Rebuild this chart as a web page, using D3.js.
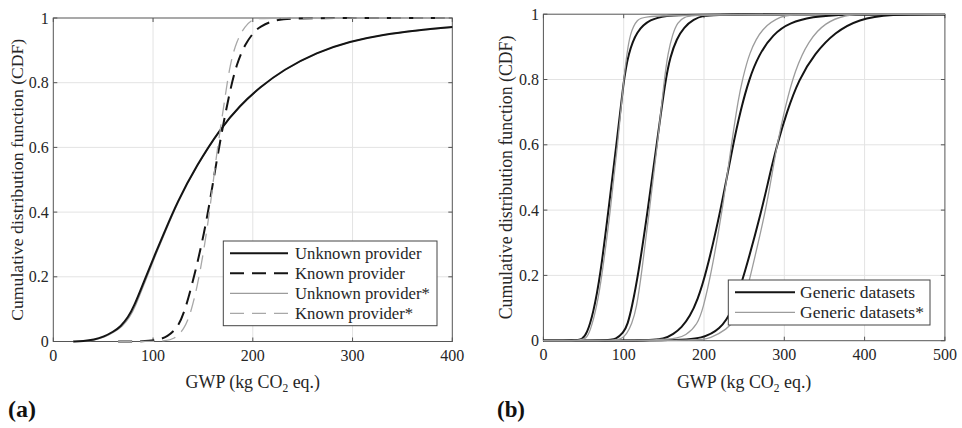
<!DOCTYPE html>
<html>
<head>
<meta charset="utf-8">
<script src="https://cdn.jsdelivr.net/npm/d3@7"></script>
<style>
  body { margin: 0; background: #fff; }
  svg { display: block; }
  text { font-family: "Liberation Serif", "Times New Roman", serif; fill: #262626; }
</style>
</head>
<body>
<svg id="chart" width="962" height="428"></svg>
<script>
// ---- data: [GWP, CDF] ----
const yTicks = [0, 0.2, 0.4, 0.6, 0.8, 1];
const xTicksA = [0, 100, 200, 300, 400];
const xTicksB = [0, 100, 200, 300, 400, 500];

// panel (a)
const unknown = [[20,0],[30,0.001],[40.8,0.005],[50.8,0.015],[60,0.03],[67.5,0.046],[75,0.075],[80.9,0.108],
  [90.9,0.185],[100.9,0.262],[110.9,0.334],[124,0.43],[143.8,0.545],[167.2,0.657],[187.2,0.73],[207.2,0.786],
  [230.6,0.84],[264,0.894],[297.4,0.928],[330.9,0.949],[364.3,0.962],[400,0.972]];
const unknownStar = [[20,0],[32,0.001],[42.5,0.005],[52.5,0.015],[61.5,0.03],[69,0.046],[76.5,0.075],[82.3,0.108],
  [92,0.185],[101.8,0.262],[111.6,0.334],[124.5,0.43],[144,0.545],[167.2,0.657],[187.5,0.73],[207.5,0.786],
  [231,0.84],[264.5,0.894],[298,0.928],[331.5,0.949],[365,0.962],[400,0.971]];
const known = [[65,0],[90,0],[105,0.004],[114.3,0.015],[124.3,0.041],[131,0.087],[137.7,0.159],[144.4,0.242],
  [151.1,0.334],[157.1,0.435],[163.8,0.559],[170.4,0.672],[177.1,0.775],[183.8,0.858],[192.2,0.92],[202.2,0.961],
  [207.2,0.972],[218,0.99],[230.6,0.997],[245,1],[400,1]];
const knownStar = [[65,0],[100,0],[112,0.002],[121,0.007],[131,0.036],[137.7,0.087],[144.3,0.169],[151.1,0.283],
  [157.8,0.427],[162,0.54],[167.2,0.652],[172.2,0.755],[177.2,0.858],[183.9,0.93],[192.2,0.976],[200.6,0.997],
  [206,1],[400,1]];

// panel (b): four generic datasets, with and without *
const generic1 = [[0,0],[41,0],[48,0.004],[54,0.02],[62,0.082],[71,0.2],[81,0.4],[91,0.6],[100,0.8],[105.7,0.878],
  [116,0.949],[133,0.985],[153.5,0.996],[175,1],[500,1]];
const generic2 = [[0,0],[83,0],[90,0.005],[99.5,0.023],[105,0.05],[110,0.1],[118,0.2],[130,0.4],[141,0.6],[152,0.8],
  [158,0.87],[166,0.925],[175,0.96],[187,0.985],[200,0.996],[215,1],[500,1]];
const generic3 = [[0,0],[132,0],[150,0.005],[162,0.02],[172,0.04],[182.5,0.074],[192,0.125],[202,0.2],[221,0.4],
  [236,0.6],[246,0.71],[256,0.8],[268,0.875],[286,0.939],[307,0.975],[336,0.992],[365,1],[500,1]];
const generic4 = [[0,0],[170,0],[197,0.007],[220,0.033],[236,0.094],[250,0.2],[272,0.4],[281,0.5],[291,0.6],
  [303,0.7],[318,0.8],[338,0.88],[363,0.945],[393,0.985],[430,1],[500,1]];
const genericStar1 = [[0,0],[47,0],[53,0.007],[58,0.026],[66.4,0.102],[73,0.2],[83.5,0.4],[92.5,0.6],[100,0.8],
  [104,0.88],[108,0.94],[116,0.985],[130,1],[500,1]];
const genericStar2 = [[0,0],[91,0],[97,0.006],[103.7,0.02],[110,0.05],[116,0.1],[122,0.2],[132,0.4],[142,0.6],
  [150.5,0.8],[155,0.88],[161,0.94],[167,0.975],[175,0.992],[190,1],[500,1]];
const genericStar3 = [[0,0],[160,0],[178,0.016],[192,0.05],[199,0.1],[208.5,0.2],[223,0.4],[234,0.6],[243,0.745],
  [248,0.8],[256,0.88],[272,0.96],[297,0.995],[310,1],[500,1]];
const genericStar4 = [[0,0],[195,0],[207,0.007],[228,0.033],[243,0.074],[250,0.12],[258,0.2],[277,0.4],[284,0.5],
  [291,0.6],[301,0.715],[313,0.827],[330,0.919],[351,0.975],[377,0.998],[395,1],[500,1]];

const legendA = ['Unknown provider', 'Known provider', 'Unknown provider*', 'Known provider*'];
const legendB = ['Generic datasets', 'Generic datasets*'];

// ---- styles ----
const BLACK = '#141414', GREY = '#9c9c9c';
const styles = {
  solidBlack: { stroke: BLACK, width: 2, dash: null },
  dashBlack: { stroke: BLACK, width: 2, dash: '14,8' },
  solidGrey: { stroke: GREY, width: 1.3, dash: null },
  dashGrey: { stroke: '#a8a8a8', width: 1.3, dash: '14,8' }
};

const svg = d3.select('#chart');

// scale a text's font-size so that it spans the width measured on the reference
function fitWidth(sel, target) {
  const fs = parseFloat(sel.attr('font-size'));
  const w = sel.node().getComputedTextLength();
  if (w > 0) sel.attr('font-size', (fs * target / w).toFixed(2));
  return parseFloat(sel.attr('font-size'));
}

function drawPanel(cfg) {
  const g = svg.append('g');
  const x = d3.scaleLinear().domain(cfg.xDomain).range([cfg.left, cfg.right]);
  const y = d3.scaleLinear().domain([0, 1]).range([cfg.bottom, cfg.top]);

  // grid
  g.append('g').selectAll('line').data(cfg.xTicks.slice(1, -1)).join('line')
    .attr('x1', d => x(d)).attr('x2', d => x(d))
    .attr('y1', cfg.top).attr('y2', cfg.bottom)
    .attr('stroke', '#e3e3e3').attr('stroke-width', 1);
  g.append('g').selectAll('line').data(yTicks.slice(1, -1)).join('line')
    .attr('y1', d => y(d)).attr('y2', d => y(d))
    .attr('x1', cfg.left).attr('x2', cfg.right)
    .attr('stroke', '#e3e3e3').attr('stroke-width', 1);

  // box
  g.append('rect')
    .attr('x', cfg.left).attr('y', cfg.top)
    .attr('width', cfg.right - cfg.left).attr('height', cfg.bottom - cfg.top)
    .attr('fill', 'none').attr('stroke', '#555').attr('stroke-width', 1);

  // inward ticks on all four sides
  const tl = 4;
  const ticks = g.append('g').attr('stroke', '#555').attr('stroke-width', 1);
  cfg.xTicks.forEach(t => {
    ticks.append('line').attr('x1', x(t)).attr('x2', x(t)).attr('y1', cfg.bottom).attr('y2', cfg.bottom - tl);
    ticks.append('line').attr('x1', x(t)).attr('x2', x(t)).attr('y1', cfg.top).attr('y2', cfg.top + tl);
  });
  yTicks.forEach(t => {
    ticks.append('line').attr('y1', y(t)).attr('y2', y(t)).attr('x1', cfg.left).attr('x2', cfg.left + tl);
    ticks.append('line').attr('y1', y(t)).attr('y2', y(t)).attr('x1', cfg.right).attr('x2', cfg.right - tl);
  });

  // tick labels
  g.append('g').selectAll('text').data(cfg.xTicks).join('text')
    .attr('x', d => x(d)).attr('y', cfg.xTickY)
    .attr('text-anchor', 'middle').attr('font-size', 16)
    .text(d => d);
  g.append('g').selectAll('text').data(yTicks).join('text')
    .attr('x', cfg.left - 4.5).attr('y', d => y(d) + 5.5)
    .attr('text-anchor', 'end').attr('font-size', 16)
    .text(d => d);

  // axis labels
  const xl = g.append('text')
    .attr('x', (cfg.left + cfg.right) / 2).attr('y', cfg.xLabelY)
    .attr('text-anchor', 'middle').attr('font-size', 16.5);
  xl.append('tspan').text('GWP (kg CO');
  xl.append('tspan').attr('font-size', 11.5).attr('dy', 4).text('2');
  xl.append('tspan').attr('dy', -4).text(' eq.)');
  fitWidth(xl, 135);

  const yl = g.append('text')
    .attr('transform', `translate(${cfg.yLabelX},${(cfg.top + cfg.bottom) / 2}) rotate(-90)`)
    .attr('text-anchor', 'middle').attr('font-size', 17)
    .text('Cumulative distribution function (CDF)');
  fitWidth(yl, cfg.yLabelLen);

  // curves
  const line = d3.line()
    .x(d => x(d[0])).y(d => y(d[1]))
    .curve(d3.curveBasis);
  g.append('g').selectAll('path').data(cfg.series).join('path')
    .attr('d', d => line(d.values))
    .attr('fill', 'none')
    .attr('stroke', d => d.style.stroke)
    .attr('stroke-width', d => d.style.width)
    .attr('stroke-dasharray', d => d.style.dash)
    .attr('stroke-linejoin', 'round');

  // legend
  const lg = cfg.legend;
  g.append('rect')
    .attr('x', lg.x0).attr('y', lg.y0)
    .attr('width', lg.x1 - lg.x0).attr('height', lg.y1 - lg.y0)
    .attr('fill', '#fff').attr('stroke', '#444').attr('stroke-width', 1);
  const rows = g.append('g').selectAll('g').data(lg.items).join('g')
    .attr('transform', (d, i) => `translate(0,${lg.firstRow + i * 20})`);
  rows.append('line')
    .attr('x1', lg.lineX0).attr('x2', lg.lineX1)
    .attr('stroke', d => d.style.stroke)
    .attr('stroke-width', d => d.style.width)
    .attr('stroke-dasharray', d => d.style.dash);
  const labels = rows.append('text')
    .attr('x', lg.textX).attr('y', 5.5)
    .attr('font-size', 16)
    .text(d => d.label);
  // size all labels from the longest one
  const longest = labels.filter(d => d.label === lg.longest);
  const fs = fitWidth(longest, lg.longestLen);
  labels.attr('font-size', fs);

  // panel tag
  const tag = svg.append('text')
    .attr('x', cfg.tagX).attr('y', 417)
    .attr('font-weight', 'bold').attr('font-size', 22)
    .style('fill', '#111')
    .text(cfg.tag);
  fitWidth(tag, 28);
}

drawPanel({
  left: 53.3, right: 452.3, top: 18, bottom: 341.5,
  xDomain: [0, 400], xTicks: xTicksA,
  xTickY: 360.5, xLabelY: 387.5, yLabelX: 23, yLabelLen: 282,
  series: [
    { values: unknownStar, style: styles.solidGrey },
    { values: unknown, style: styles.solidBlack },
    { values: known, style: styles.dashBlack },
    { values: knownStar, style: styles.dashGrey }
  ],
  legend: {
    x0: 223.3, x1: 437, y0: 241, y1: 325.7, firstRow: 253.3,
    lineX0: 230, lineX1: 288, textX: 295,
    longest: legendA[2], longestLen: 135,
    items: [
      { label: legendA[0], style: styles.solidBlack },
      { label: legendA[1], style: styles.dashBlack },
      { label: legendA[2], style: styles.solidGrey },
      { label: legendA[3], style: styles.dashGrey }
    ]
  },
  tag: '(a)', tagX: 8
});

drawPanel({
  left: 543.4, right: 944.9, top: 14.2, bottom: 340.7,
  xDomain: [0, 500], xTicks: xTicksB,
  xTickY: 359.5, xLabelY: 387.5, yLabelX: 512, yLabelLen: 284,
  series: [generic1, generic2, generic3, generic4].map(v => ({ values: v, style: styles.solidBlack }))
    .concat([genericStar1, genericStar2, genericStar3, genericStar4].map(v => ({ values: v, style: styles.solidGrey }))),
  legend: {
    x0: 728.3, x1: 930, y0: 280, y1: 325, firstRow: 292.3,
    lineX0: 735, lineX1: 795, textX: 800,
    longest: legendB[1], longestLen: 124,
    items: [
      { label: legendB[0], style: styles.solidBlack },
      { label: legendB[1], style: styles.solidGrey }
    ]
  },
  tag: '(b)', tagX: 497
});
</script>
</body>
</html>
